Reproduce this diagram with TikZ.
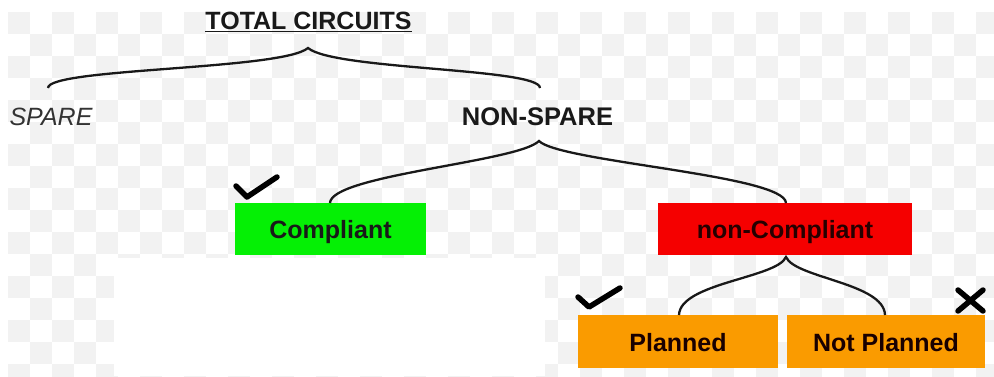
\documentclass[tikz,border=0pt]{standalone}
\usepackage{fontspec}
\setmainfont{Liberation Sans}
\begin{document}
\definecolor{chk}{RGB}{242,242,242}
\definecolor{boxgreen}{RGB}{5,240,5}
\definecolor{boxred}{RGB}{245,0,0}
\definecolor{boxorange}{RGB}{250,155,0}
\definecolor{ink}{RGB}{25,25,25}
\begin{tikzpicture}[x=1pt,y=-1pt,
  lbl/.style={text=ink, inner sep=0pt},
  box/.style={minimum height=52pt, inner sep=0pt, text height=24pt, text depth=5pt, font=\fontsize{25}{28}\selectfont\bfseries, text=ink},
  brace/.style={line width=2.3pt, draw=ink},
  tickmark/.style={line width=5.5pt, draw=black, line cap=round, line join=round}]
\useasboundingbox (0,0) rectangle (994,376);
\fill[white] (0,0) rectangle (994,376);
% transparency checkerboard
\foreach \i in {0,...,44}{
  \foreach \j in {0,...,16}{
    \pgfmathtruncatemacro\chkm{mod(\i+\j,2)}
    \ifnum\chkm=0
      \fill[chk] (8+22*\i,12+22*\j) rectangle ++(22,22);
    \fi
  }
}
\fill[white] (114,258) rectangle (545,376);
% texts
\node[lbl, font=\fontsize{25}{28}\selectfont\bfseries] (total) at (308.5,22) {\underline{TOTAL CIRCUITS}};
\node[lbl, font=\fontsize{25}{28}\selectfont\itshape, text=black!80] (spare) at (51,117) {SPARE};
\node[lbl, font=\fontsize{25.5}{28}\selectfont\bfseries] (nonspare) at (537.5,117) {NON-SPARE};
% boxes
\node[box, fill=boxgreen, minimum width=191pt] (comp) at (330.5,229) {Compliant};
\node[box, fill=boxred, minimum width=254pt, text=black!85!red] (noncomp) at (785,229) {non-Compliant};
\node[box, fill=boxorange, minimum width=200pt, minimum height=53pt, text=black!90!red] (planned) at (678,341.5) {Planned};
\node[box, fill=boxorange, minimum width=198pt, minimum height=53pt, text=black!90!red] (notplanned) at (886,341.5) {Not Planned};
% brace coordinates
\coordinate (p1) at (308,48);
\coordinate (l1) at (48,88);
\coordinate (r1) at (540,88);
\coordinate (p2) at (539,141);
\coordinate (l2) at (330,203);
\coordinate (r2) at (786,203);
\coordinate (p3) at (786,257);
\coordinate (l3) at (679,315);
\coordinate (r3) at (885,315);
% braces
\draw[brace] (l1) .. controls (48,68) and (282,70) .. (p1)
             .. controls (334,70) and (540,68) .. (r1);
\draw[brace] (l2) .. controls (331,175) and (518,162) .. (p2)
             .. controls (560,162) and (785,175) .. (r2);
\draw[brace] (l3) .. controls (680,283) and (777,278) .. (p3)
             .. controls (795,278) and (884,283) .. (r3);
% marks
\coordinate (c1a) at (236,186);
\coordinate (c1b) at (247,197);
\coordinate (c1c) at (277,177);
\draw[tickmark] (c1a) -- (c1b) -- (c1c);
\coordinate (c2a) at (578,297);
\coordinate (c2b) at (589,307);
\coordinate (c2c) at (620,288);
\draw[tickmark] (c2a) -- (c2b) -- (c2c);
\coordinate (xa) at (958,290);
\coordinate (xb) at (983,311);
\coordinate (xc) at (983,290);
\coordinate (xd) at (958,311);
\draw[tickmark] (xa) -- (xb) (xc) -- (xd);
\end{tikzpicture}
\end{document}
